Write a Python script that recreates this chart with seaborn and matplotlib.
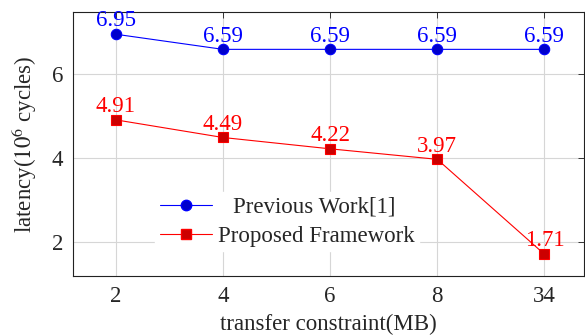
import matplotlib
matplotlib.use("Agg")
import pandas as pd
import matplotlib.pyplot as plt
import seaborn as sns
from matplotlib.lines import Line2D

constraints = ["2", "4", "6", "8", "34"]
previous_work = [6.95, 6.59, 6.59, 6.59, 6.59]
proposed = [4.91, 4.49, 4.22, 3.97, 1.71]
series_names = ["Previous Work[1]", "Proposed Framework"]

sns.set_theme(style="white")
plt.rcParams["font.family"] = ["Liberation Serif", "DejaVu Serif"]
plt.rcParams["mathtext.fontset"] = "stix"

pos = list(range(len(constraints)))
df = pd.DataFrame({
    "pos": pos * 2,
    "latency": previous_work + proposed,
    "series": [series_names[0]] * len(pos) + [series_names[1]] * len(pos),
})

fig = plt.figure(figsize=(5.85, 3.36), dpi=100)
ax = fig.add_axes([73 / 585, 60 / 336, 511 / 585, 264 / 336])

sns.lineplot(
    data=df, x="pos", y="latency", hue="series", style="series",
    palette={series_names[0]: "#0000ff", series_names[1]: "#ff0000"},
    markers={series_names[0]: "o", series_names[1]: "s"},
    dashes=False, linewidth=0.8, ax=ax, legend=False,
)
# marker styling like pgfplots (fill darker than line)
lines = ax.get_lines()
lines[0].set_markerfacecolor("#0000cc")
lines[0].set_markeredgecolor("#0000ff")
lines[0].set_markersize(7.5)
lines[1].set_markerfacecolor("#cc0000")
lines[1].set_markeredgecolor("#ff0000")
lines[1].set_markersize(7)
for ln in lines:
    ln.set_markeredgewidth(0.8)

fs = 16.5
for vals, col in [(previous_work, "#0000ff"), (proposed, "#ff0000")]:
    for x, v in zip(pos, vals):
        ax.annotate(f"{v:.2f}", (x, v), xytext=(0, 2), textcoords="offset points",
                    ha="center", va="bottom", color=col, fontsize=fs)

ax.set_xlim(-0.4, 4.37)
ax.set_ylim(1.19, 7.48)
ax.set_xticks(pos)
ax.set_xticklabels(constraints)
ax.set_yticks([2, 4, 6])
ax.grid(True, color="#d6d6d6", linewidth=0.8)
ax.set_axisbelow(True)
ax.tick_params(axis="both", direction="in", length=4, width=0.7, color="#333333",
               labelsize=fs, top=True, right=True, pad=7)
for s in ax.spines.values():
    s.set_color("#222222")
    s.set_linewidth(0.8)

ax.set_xlabel("transfer constraint(MB)", fontsize=fs, labelpad=5)
ax.set_ylabel("latency($10^6$ cycles)", fontsize=fs, labelpad=9)

handles = [
    Line2D([], [], color="#0000ff", marker="o", markerfacecolor="#0000cc",
           markeredgecolor="#0000ff", markersize=7.5, linewidth=0.8),
    Line2D([], [], color="#ff0000", marker="s", markerfacecolor="#cc0000",
           markeredgecolor="#ff0000", markersize=7, linewidth=0.8),
]
leg = ax.legend(handles, series_names, loc="upper left",
                bbox_to_anchor=(155 / 585, 1 - 192 / 336), bbox_transform=fig.transFigure,
                frameon=True, fontsize=fs, handlelength=2.3, handletextpad=0.25,
                labelspacing=0.35, borderpad=0.2, borderaxespad=0, fancybox=False)
leg.get_frame().set_edgecolor("white")
leg.get_frame().set_facecolor("white")
leg.get_frame().set_alpha(1)
# pgfplots centres the legend labels; nudge the shorter one right
leg.get_texts()[0].set_x(15)

fig.savefig("out.png", dpi=100)
